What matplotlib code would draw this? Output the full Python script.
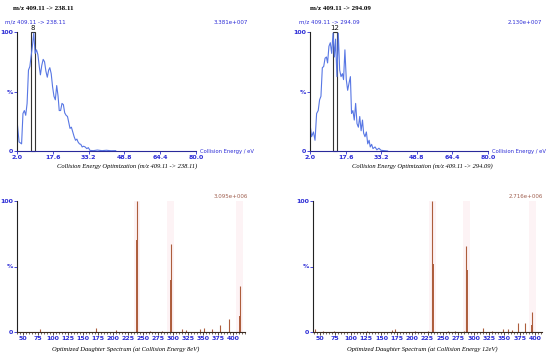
import numpy as np
import matplotlib.pyplot as plt
from matplotlib.patches import Rectangle
from matplotlib.ticker import MultipleLocator

# --- collision energy optimisation curves (eV, %) ---
ce1 = [2.0, 2.9, 4.0, 4.6, 5.2, 5.8, 6.4, 7.0, 7.6, 8.1, 8.7, 9.3, 9.9, 10.5, 11.1,
       11.7, 12.2, 12.8, 13.4, 14.0, 14.6, 15.2, 15.8, 16.3, 16.9, 17.5, 18.1, 18.7,
       19.3, 19.9, 20.4, 21.0, 21.6, 22.2, 22.8, 23.4, 24.0, 24.5, 25.1, 25.7, 26.3,
       26.9, 27.5, 28.1, 28.6, 29.2, 29.8, 30.4, 31.0, 31.7, 32.4, 33.1, 33.8, 35.3,
       37.0, 39.0, 41.0, 43.0, 45.0]
int1 = [26, 7.6, 6, 31.5, 34, 30, 40, 68, 71, 79, 88, 99, 82, 85, 81,
        71, 64, 72, 77, 75, 67, 62, 68, 70, 65, 54, 46, 43,
        55, 46, 34, 34, 40, 39, 32, 30, 29, 24.5, 19, 20, 16,
        12, 9, 10, 7.6, 6, 5.6, 3.4, 4, 3.4, 2, 2.8, 0.5, 0.3,
        0.8, 0.3, 0.6, 0.2, 0.3]

ce2 = [2.0, 2.7, 3.5, 4.2, 4.9, 5.6, 6.2, 6.8, 7.4, 8.0, 8.6, 9.2, 9.7, 10.3, 10.9,
       11.5, 12.1, 12.7, 13.2, 13.8, 14.4, 15.0, 15.6, 16.2, 16.7, 17.3, 17.9, 18.5,
       19.1, 19.7, 20.2, 20.8, 21.4, 22.0, 22.6, 23.2, 23.8, 24.4, 25.0, 25.5, 26.1,
       26.7, 27.3, 27.9, 28.4, 29.0, 29.6, 30.5, 31.3, 32.2, 33.1, 34.5, 36.0]
int2 = [23, 12, 16, 9, 31.5, 34, 43, 46, 70, 71, 78, 79, 74, 88, 91,
        82, 99, 79, 94, 62.5, 99, 68, 62.5, 65, 60, 85, 60, 51,
        57, 62.5, 31.5, 34, 26, 40, 23, 20, 29, 17, 26, 15, 12,
        16, 6, 9, 3.4, 5.6, 2, 3.4, 1, 2.3, 0.6, 0.3, 0.0]

ce_ticks = [2.0, 17.6, 33.2, 48.8, 64.4, 80.0]
ce_opt = [8, 12]

# --- daughter spectra (m/z, %) ---
mz1 = [79, 171, 205, 240, 262, 281, 296, 315, 322, 345, 352, 365, 379, 394, 411]
ms1 = [2.5, 3, 1.5, 100, 1, 1, 67, 2, 1.5, 2, 3, 2, 5, 10, 35]
mz1_core = [240.5, 296.5, 411.5]
ms1_core = [70, 40, 12]

mz2 = [43, 55, 73, 127, 168, 172, 205, 226, 233, 258, 270, 284, 288, 315, 330,
       348, 356, 362, 372, 384, 395]
ms2 = [2, 1, 1, 1, 1.5, 2, 1, 1, 100, 1, 1, 1, 66, 3, 1, 2, 2, 1.5, 7, 7, 15]
mz2_core = [233.5, 288.5, 395.5]
ms2_core = [52, 47, 5]

mz_ticks = list(range(50, 401, 25))

BLUE = '#2c2cd6'
CURVE = '#5877e4'
PEAK = '#ad5d3c'
W, H = 550, 353

fig = plt.figure(figsize=(W / 100, H / 100), dpi=100)


def px_axes(x0, x1, ytop, ybot):
    return fig.add_axes([x0 / W, (H - ybot) / H, (x1 - x0) / W, (ybot - ytop) / H])


def style(ax, bottom_color):
    for s in ['top', 'right']:
        ax.spines[s].set_visible(False)
    ax.spines['left'].set_color('#222222')
    ax.spines['bottom'].set_color(bottom_color)
    ax.spines['left'].set_linewidth(0.8)
    ax.spines['bottom'].set_linewidth(0.8)
    ax.set_ylim(0, 100)
    ax.set_yticks([0, 50, 100])
    ax.set_yticklabels(['0', '%', '100'])
    ax.tick_params(axis='both', length=2, width=0.6, pad=1, labelsize=4.5,
                   labelcolor=BLUE, colors=BLUE)
    for lab in ax.get_xticklabels() + ax.get_yticklabels():
        lab.set_fontweight('bold')


# top row: collision energy curves
top = [(17, 196, ce1, int1, ce_opt[0], '238.11', '3.381e+007', 13, 5, 248, 0.615),
       (310, 488, ce2, int2, ce_opt[1], '294.09', '2.130e+007', 310, 299, 542, 0.63)]
for x0, x1, ce, inten, opt, prod, scale, tx, lx, rx, lab_x in top:
    ax = px_axes(x0, x1, 32, 151)
    ax.plot(ce, inten, color=CURVE, lw=0.8)
    ax.set_xlim(2.0, 80.0)
    ax.set_xticks(ce_ticks)
    ax.set_xticklabels(['%.1f' % t for t in ce_ticks])
    style(ax, '#2a2a9a')
    ax.add_patch(Rectangle((opt, 0), 1.9, 100, fill=False, ec='#333333', lw=0.8,
                           clip_on=False))
    ax.text(opt + 0.95, 101, str(opt), ha='center', va='bottom', fontsize=5,
            color='#111111')
    ax.text(1.02, 0, 'Collision Energy / eV', transform=ax.transAxes, ha='left',
            va='center', fontsize=3.8, color=BLUE)
    ax.set_xlabel('Collision Energy Optimization (m/z 409.11 -> %s)' % prod,
                  fontsize=4.7, style='italic', family='Liberation Serif')
    ax.xaxis.set_label_coords(lab_x, -12 / 119)
    fig.text(tx / W, 1 - 9 / H, 'm/z 409.11 -> %s' % prod, fontsize=5.0,
             fontweight='bold', family='Liberation Serif', va='center')
    fig.text(lx / W, 1 - 22 / H, 'm/z 409.11 -> %s' % prod, fontsize=4.0,
             color=BLUE, va='center')
    fig.text(rx / W, 1 - 22 / H, scale, fontsize=4.0, color=BLUE, va='center',
             ha='right')

# bottom row: daughter spectra
bottom = [(17, 245, 40, 420, mz1, ms1, mz1_core, ms1_core, '3.095e+006', 248, '8eV'),
          (313, 542, 39, 411, mz2, ms2, mz2_core, ms2_core, '2.716e+006', 543, '12eV')]
for x0, x1, lo, hi, mz, ms, mzc, msc, scale, rx, ce in bottom:
    ax = px_axes(x0, x1, 201, 332)
    for m in mzc:
        ax.axvspan(m - 6, m + 5, color='#fdeef1', alpha=0.7, lw=0)
    ax.vlines(mz, 0, ms, color=PEAK, lw=0.8)
    ax.vlines(mzc, 0, msc, color=PEAK, lw=1.4)
    ax.set_xlim(lo, hi)
    ax.set_xticks(mz_ticks)
    ax.xaxis.set_minor_locator(MultipleLocator(5))
    style(ax, '#3a2a20')
    ax.tick_params(axis='x', which='both', colors='#3a2a20', labelcolor=BLUE)
    ax.tick_params(axis='x', which='minor', length=1.2, width=0.5)
    ax.set_xlabel('Optimized Daughter Spectrum (at Collision Energy %s)' % ce,
                  fontsize=4.7, style='italic', family='Liberation Serif')
    ax.xaxis.set_label_coords(0.478, -14 / 131)
    fig.text(rx / W, 1 - 196 / H, scale, fontsize=4.0, color='#a06050',
             va='center', ha='right')

fig.savefig('out.png', dpi=100)
